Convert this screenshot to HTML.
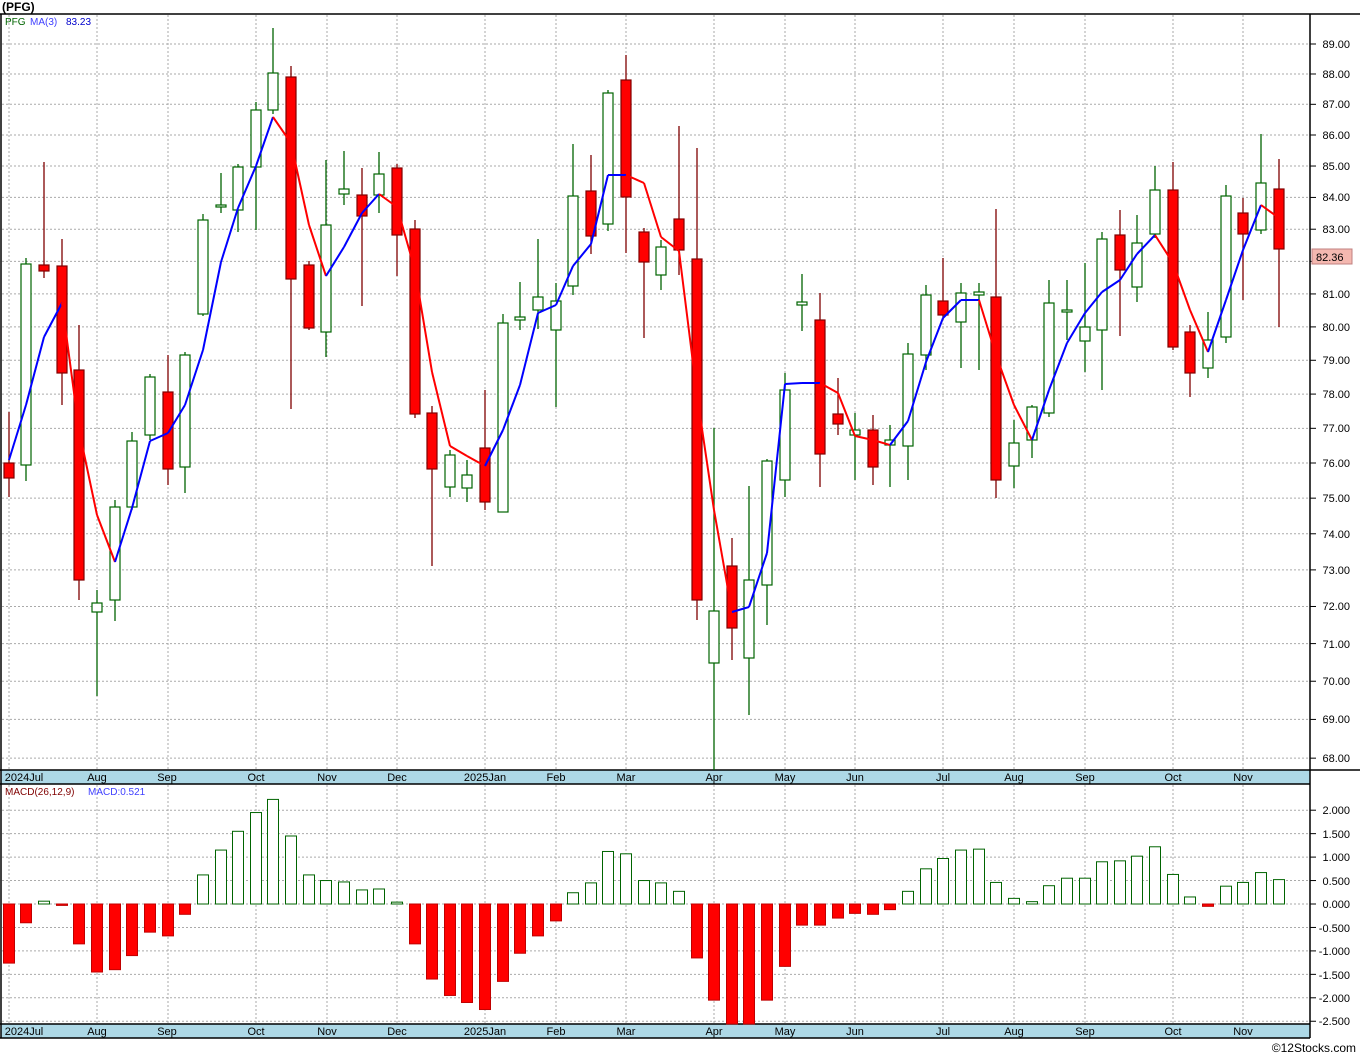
<!DOCTYPE html>
<html><head><meta charset="utf-8"><style>
body{margin:0;background:#fff;}
svg{display:block;font-family:"Liberation Sans",sans-serif;}
</style></head><body>
<svg id="s" width="1360" height="1056" xmlns="http://www.w3.org/2000/svg">
<rect x="0" y="0" width="1360" height="1056" fill="#fff"/>
<g id="grid" stroke="#aaa" stroke-dasharray="2,2" stroke-width="1"></g>
<rect x="1" y="770" width="1309" height="14" fill="#add8e6"/>
<rect x="1" y="1024" width="1309" height="14" fill="#add8e6"/>
<g stroke="#000" stroke-width="1.5" fill="none">
<line x1="0" y1="14" x2="1360" y2="14"/>
<line x1="1" y1="14" x2="1" y2="1038"/>
<line x1="1310" y1="14" x2="1310" y2="1038"/>
<line x1="0" y1="770" x2="1360" y2="770"/>
<line x1="0" y1="784" x2="1310" y2="784"/>
<line x1="0" y1="1024" x2="1310" y2="1024"/>
<line x1="0" y1="1038" x2="1310" y2="1038"/>
</g>
<g id="ticks" stroke="#000"></g>
<g id="plot"></g>
<text x="2" y="11" font-size="12" font-weight="bold">(PFG)</text>
<text x="5" y="25" font-size="10" fill="#006400">PFG</text>
<text x="30" y="25" font-size="10" fill="#4040ff">MA(3)</text>
<text x="66" y="25" font-size="10" fill="#0000cc">83.23</text>
<text x="5" y="795" font-size="10" fill="#800000">MACD(26,12,9)</text>
<text x="88" y="795" font-size="10" fill="#4040ff">MACD:0.521</text>
<g font-size="11" fill="#000" text-anchor="end">
<text x="1350" y="48">89.00</text><text x="1350" y="78">88.00</text><text x="1350" y="108">87.00</text><text x="1350" y="139">86.00</text><text x="1350" y="170">85.00</text><text x="1350" y="201">84.00</text><text x="1350" y="233">83.00</text><text x="1350" y="298">81.00</text><text x="1350" y="331">80.00</text><text x="1350" y="364">79.00</text><text x="1350" y="398">78.00</text><text x="1350" y="432">77.00</text><text x="1350" y="467">76.00</text><text x="1350" y="502">75.00</text><text x="1350" y="538">74.00</text><text x="1350" y="574">73.00</text><text x="1350" y="610">72.00</text><text x="1350" y="648">71.00</text><text x="1350" y="685">70.00</text><text x="1350" y="723">69.00</text><text x="1350" y="762">68.00</text>
<text x="1350" y="814">2.000</text><text x="1350" y="838">1.500</text><text x="1350" y="861">1.000</text><text x="1350" y="885">0.500</text><text x="1350" y="908">0.000</text><text x="1350" y="932">-0.500</text><text x="1350" y="955">-1.000</text><text x="1350" y="979">-1.500</text><text x="1350" y="1002">-2.000</text><text x="1350" y="1025">-2.500</text>
</g>
<rect x="1312" y="249" width="40" height="15" fill="#f4b8b0" stroke="#c08080"/>
<text x="1316" y="261" font-size="11">82.36</text>
<g font-size="11" fill="#000" text-anchor="middle">
<text x="24" y="781">2024Jul</text><text x="97" y="781">Aug</text><text x="167" y="781">Sep</text><text x="256" y="781">Oct</text><text x="327" y="781">Nov</text><text x="397" y="781">Dec</text><text x="485" y="781">2025Jan</text><text x="556" y="781">Feb</text><text x="626" y="781">Mar</text><text x="714" y="781">Apr</text><text x="785" y="781">May</text><text x="855" y="781">Jun</text><text x="943" y="781">Jul</text><text x="1014" y="781">Aug</text><text x="1085" y="781">Sep</text><text x="1173" y="781">Oct</text><text x="1243" y="781">Nov</text>
<text x="24" y="1035">2024Jul</text><text x="97" y="1035">Aug</text><text x="167" y="1035">Sep</text><text x="256" y="1035">Oct</text><text x="327" y="1035">Nov</text><text x="397" y="1035">Dec</text><text x="485" y="1035">2025Jan</text><text x="556" y="1035">Feb</text><text x="626" y="1035">Mar</text><text x="714" y="1035">Apr</text><text x="785" y="1035">May</text><text x="855" y="1035">Jun</text><text x="943" y="1035">Jul</text><text x="1014" y="1035">Aug</text><text x="1085" y="1035">Sep</text><text x="1173" y="1035">Oct</text><text x="1243" y="1035">Nov</text>
</g>
<text x="1356" y="1052" font-size="12" text-anchor="end">©12Stocks.com</text>
</svg>
<script>
var NS="http://www.w3.org/2000/svg";
function el(p,t,a){var e=document.createElementNS(NS,t);for(var k in a)e.setAttribute(k,a[k]);p.appendChild(e);return e;}
var g=document.getElementById('grid'),tk=document.getElementById('ticks'),pl=document.getElementById('plot');
var mx=[9,97,168,256,327,397,485,556,626,714,785,855,943,1014,1085,1173,1243];
mx.forEach(function(x){el(g,'line',{x1:x,y1:15,x2:x,y2:770});el(g,'line',{x1:x,y1:785,x2:x,y2:1024});});
for(var p=68;p<=89;p++){var y=44+2653.6*Math.log(89/p);el(g,'line',{x1:2,y1:y,x2:1310,y2:y});el(tk,'line',{x1:1310,y1:y,x2:1316,y2:y});}
for(var v=-2.5;v<=2.01;v+=0.5){var y=904-v*46.9;el(g,'line',{x1:2,y1:y,x2:1310,y2:y});el(tk,'line',{x1:1310,y1:y,x2:1316,y2:y});}
var C=[[9,'r',463,478,412,497],[26,'g',264,465,258,481],[44,'r',265,271,162,278],[62,'r',266,373,239,405],[79,'r',370,580,325,600],[97,'g',603,612,590,696],[115,'g',507,600,500,621],[132,'g',441,507,432,510],[150,'g',377,435,374,440],[168,'r',392,469,355,485],[185,'g',355,467,352,493],[203,'g',220,314,214,316],[221,'g',205,207,173,213],[238,'g',167,210,164,232],[256,'g',110,167,102,230],[273,'g',73,110,28,114],[291,'r',77,279,66,409],[309,'r',265,328,261,330],[326,'g',225,332,160,357],[344,'g',189,194,151,205],[362,'r',195,216,168,306],[379,'g',174,195,152,213],[397,'r',168,235,164,276],[415,'r',229,414,220,418],[432,'r',413,469,406,566],[450,'g',455,487,450,497],[467,'g',475,488,460,502],[485,'r',448,502,390,510],[503,'g',323,512,314,512],[520,'g',317,320,282,330],[538,'g',297,310,239,329],[556,'g',301,330,283,407],[573,'g',196,286,144,295],[591,'r',191,236,155,254],[608,'g',93,224,90,231],[626,'r',80,197,55,253],[644,'r',232,262,228,338],[661,'g',247,275,240,290],[679,'r',219,250,126,275],[697,'r',259,600,148,620],[714,'g',611,663,428,770],[732,'r',566,628,538,660],[749,'g',580,658,486,715],[767,'g',461,585,459,625],[785,'g',390,480,373,497],[802,'g',302,305,274,331],[820,'r',320,454,293,487],[838,'r',414,424,378,435],[855,'g',430,435,413,480],[873,'r',430,467,415,485],[890,'g',440,445,425,487],[908,'g',354,446,343,480],[926,'g',295,355,285,370],[943,'r',301,315,258,320],[961,'g',293,322,283,368],[979,'g',292,295,283,370],[996,'r',297,480,209,498],[1014,'g',443,466,420,488],[1032,'g',407,440,405,458],[1049,'g',303,413,280,417],[1067,'g',310,312,280,340],[1085,'g',327,341,263,372],[1102,'g',239,330,232,390],[1120,'r',235,270,210,336],[1137,'g',243,287,215,302],[1155,'g',190,234,166,238],[1173,'r',190,347,162,350],[1190,'r',332,373,325,397],[1208,'g',340,368,312,378],[1226,'g',196,337,185,343],[1243,'r',213,234,198,300],[1261,'g',183,230,134,234],[1279,'r',189,249,159,327]];
C.forEach(function(c){var red=c[1]=='r';var sc=red?'#800000':'#006400';
el(pl,'line',{x1:c[0],y1:c[4],x2:c[0],y2:c[5],stroke:sc,'stroke-width':1.3});
el(pl,'rect',{x:c[0]-5,y:c[2],width:10,height:Math.max(c[3]-c[2],1),fill:red?'#ff0000':'#fff',stroke:sc,'stroke-width':1.2});});
var M=[[9,460],[26,405],[44,337],[62,303],[79,430],[97,515],[115,562],[132,508],[150,441],[168,433],[185,405],[203,350],[221,262],[238,208],[256,166],[273,117],[291,143],[309,225],[326,276],[344,247],[362,213],[379,194],[397,207],[415,270],[432,372],[450,446],[467,456],[485,466],[503,430],[520,385],[538,313],[556,305],[573,266],[591,244],[608,175],[626,175],[644,183],[661,237],[679,251],[697,395],[714,510],[732,612],[749,607],[767,553],[785,384],[802,383],[820,383],[838,393],[855,436],[873,440],[890,445],[908,421],[926,362],[943,318],[961,300],[979,300],[996,355],[1014,405],[1032,440],[1049,390],[1067,343],[1085,313],[1102,292],[1120,280],[1137,254],[1155,235],[1173,263],[1190,310],[1208,352],[1226,300],[1243,250],[1261,205],[1279,218]];
for(var i=1;i<M.length;i++){var up=M[i][1]<=M[i-1][1];el(pl,'line',{x1:M[i-1][0],y1:M[i-1][1],x2:M[i][0],y2:M[i][1],stroke:up?'#0000ff':'#ff0000','stroke-width':2});}
var B=[-1.26,-0.4,0.06,-0.03,-0.85,-1.45,-1.4,-1.1,-0.6,-0.68,-0.22,0.62,1.15,1.55,1.95,2.23,1.45,0.62,0.5,0.47,0.3,0.32,0.04,-0.85,-1.6,-1.95,-2.1,-2.25,-1.65,-1.05,-0.68,-0.36,0.24,0.45,1.12,1.07,0.5,0.45,0.27,-1.15,-2.05,-2.58,-2.58,-2.05,-1.33,-0.45,-0.45,-0.3,-0.2,-0.22,-0.12,0.27,0.75,0.97,1.15,1.17,0.46,0.12,0.05,0.39,0.55,0.55,0.9,0.92,1.02,1.22,0.63,0.15,-0.05,0.38,0.46,0.67,0.52];
B.forEach(function(v,i){var x=C[i][0];var y0=904,y1=904-v*46.9;if(y1>1024)y1=1024;var t=Math.min(y0,y1),h=Math.max(Math.abs(y1-y0),1);
el(pl,'rect',{x:x-5.5,y:t,width:11,height:h,fill:v<0?'#ff0000':'#fff',stroke:v<0?'#c00000':'#006400','stroke-width':1});});
</script>
</body></html>
